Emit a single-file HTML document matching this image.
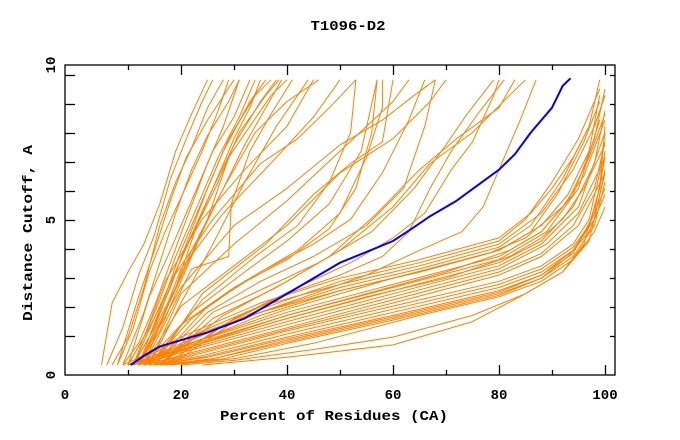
<!DOCTYPE html>
<html><head><meta charset="utf-8"><style>
html,body{margin:0;padding:0;background:#fff}
svg{display:block}
text{font-family:"Liberation Mono",monospace;font-weight:bold;font-size:14px;fill:#000}
</style></head><body>
<svg id="chart" width="680" height="440" viewBox="0 0 680 440" xmlns="http://www.w3.org/2000/svg">
<text x="348" y="30" text-anchor="middle" textLength="75" lengthAdjust="spacingAndGlyphs">T1096-D2</text>
<text x="334" y="420" text-anchor="middle" textLength="228" lengthAdjust="spacingAndGlyphs">Percent of Residues (CA)</text>
<text x="32" y="233" text-anchor="middle" textLength="176" lengthAdjust="spacingAndGlyphs" transform="rotate(-90 32 233)">Distance Cutoff, A</text>
<g id="series"></g>
<g id="axes"></g>
</svg>
<script>
const xTicks=[10,20,30,40,50,60,70,80,90,100];
const xLabels=[0,20,40,60,80,100];
const yTicks=[1,2,3,4,5,6,7,8,9,10];
const yLabels=[0,5,10];
const blueSeries=[[10.5,0.3],[13,0.6],[16,0.9],[20,1.1],[25,1.35],[32,1.8],[36,2.2],[40,2.6],[45,3.1],[50,3.6],[55,3.95],[60,4.3],[64,4.75],[67,5.1],[72,5.6],[76,6.1],[80,6.6],[83,7.1],[86,7.8],[88,8.2],[90,8.6],[92,9.3],[93.5,9.55]];
const groupA=[
[[5,0.3],[7,2.3],[10,3.3],[13,4.2],[16,5.5],[19,7.2],[22,8.4],[25,9.5]],
[[6,0.3],[9,1.5],[12,3.2],[15,4.5],[18,6.3],[21,7.6],[24,8.8],[26,9.5]],
[[7,0.3],[10,1.2],[13,2.8],[16,4.8],[19,6.2],[22,7.3],[25,8.6],[28,9.5]],
[[8,0.3],[11,1.5],[14,3.3],[17,4.6],[20,5.7],[24,7.2],[27,8.5],[29,9.5]],
[[9,0.3],[12,1.0],[15,2.2],[18,3.6],[21,5.0],[25,6.8],[28,8.0],[31,9.5]],
[[10,0.3],[13,1.2],[16,2.4],[19,3.8],[23,5.4],[27,7.0],[31,8.3],[34,9.5]],
[[10,0.3],[14,1.5],[17,2.5],[20,4.0],[24,5.6],[28,7.2],[33,8.8],[36,9.5]],
[[11,0.3],[14,1.2],[18,2.8],[21,4.2],[25,6.0],[29,7.6],[34,9.0],[37,9.5]],
[[11,0.3],[15,1.5],[19,3.3],[22,4.5],[26,6.0],[30,7.4],[35,8.8],[38,9.5]],
[[12,0.3],[16,1.8],[19,2.8],[23,4.8],[27,6.2],[31,7.8],[36,9.0],[38.5,9.5]],
[[12,0.3],[16,1.4],[20,3.0],[24,4.6],[28,6.0],[32,7.4],[36,8.6],[39,9.5]],
[[13,0.3],[17,2.0],[21,3.5],[25,5.0],[29,7.0],[33,8.0],[37,9.0],[40,9.5]],
[[9,0.3],[13,2.0],[16,3.6],[19,5.2],[22,6.6],[25,7.7],[29,8.8],[31,9.5]],
[[8,0.3],[12,2.5],[15,4.0],[18,5.6],[21,7.0],[25,8.2],[30,9.5]],
[[10,0.3],[14,2.5],[18,4.0],[22,5.6],[26,7.2],[30,8.3],[33,9.5]],
[[13,0.3],[18,2.0],[22,3.4],[29,3.8],[29.5,5.5],[33,7.2],[37,8.4],[41,9.5]],
[[11,0.3],[16,2.2],[20,3.7],[25,5.6],[30,7.6],[33,8.6],[35,9.5]],
[[14,0.3],[20,2.3],[26,4.2],[32,6.2],[38,8.0],[44,9.5]],
[[12,0.3],[17,2.0],[22,4.0],[28,6.0],[34,7.8],[40,8.8],[46,9.5]]
];
const groupB=[
[[13,0.3],[20,1.6],[30,2.8],[40,3.7],[48,4.7],[53,6.0],[56,7.8],[57,9.5]],
[[14,0.3],[22,1.8],[32,3.0],[42,4.0],[50,5.2],[55,7.0],[58,8.6],[58,9.5]],
[[14,0.3],[22,2.0],[32,3.3],[40,4.3],[48,5.5],[54,7.2],[57,9.5]],
[[15,0.3],[25,2.2],[35,3.3],[45,4.2],[52,5.0],[58,6.5],[63,8.2],[66,9.5]],
[[15,0.3],[25,2.0],[35,3.0],[45,3.8],[55,4.8],[62,6.0],[66,8.0],[68,9.5]],
[[16,0.3],[26,2.0],[36,2.8],[46,3.6],[56,4.6],[64,6.0],[70,7.4],[74,8.4],[79,9.5]],
[[16,0.3],[26,1.8],[38,2.8],[48,3.8],[57,5.2],[65,6.6],[72,7.6],[80,8.6],[83,9.5]],
[[16,0.3],[28,1.9],[40,3.0],[50,4.0],[60,5.4],[67,6.8],[75,7.8],[82,9.0],[85,9.5]],
[[17,0.3],[28,1.6],[40,2.6],[50,3.2],[58,3.8],[63,4.6],[67,6.0],[71,7.2],[76,8.4],[81,9.5]],
[[17,0.3],[30,1.8],[42,2.8],[52,3.6],[60,4.4],[66,5.2],[71,6.6],[75,7.5],[79,9.0],[80,9.5]],
[[18,0.3],[30,1.7],[45,2.6],[55,3.2],[65,4.0],[73,4.6],[77,5.4],[80,6.6],[84,8.2],[87,9.5]],
[[14,0.3],[24,2.4],[34,3.8],[42,4.8],[48,6.2],[52,7.8],[53,9.5]],
[[15,0.3],[24,2.6],[36,4.2],[45,5.8],[52,6.8],[58,7.5],[60,9.5]],
[[13,0.3],[20,2.2],[30,3.5],[40,4.8],[50,6.5],[60,7.6],[67,8.8],[70,9.5]],
[[12,0.3],[20,2.8],[30,4.8],[40,6.0],[50,7.4],[58,8.2],[64,9.0],[68,9.5]],
[[12,0.3],[18,3.0],[26,5.0],[35,6.8],[42,7.6],[48,8.6],[53,9.5]],
[[11,0.3],[17,3.0],[24,5.0],[32,6.6],[40,8.0],[45,9.5]],
[[13,0.3],[20,3.4],[28,5.2],[38,7.0],[45,8.3],[50,9.5]],
[[14,0.3],[20,2.6],[30,4.2],[40,5.6],[50,7.2],[60,8.8],[63,9.5]]
];
const groupC=[
[[10,0.3],[20,0.9],[40,2.1],[60,3.1],[80,4.0],[88,4.8],[93,5.8],[97,7.2],[99,9.0]],
[[10,0.3],[20,0.9],[40,2.0],[60,2.9],[80,3.8],[88,4.6],[94,5.8],[98,7.6],[100,9.2]],
[[11,0.3],[20,0.85],[40,1.9],[60,2.8],[80,3.7],[89,4.6],[95,6.0],[99,8.2]],
[[11,0.3],[20,0.8],[40,1.8],[60,2.7],[80,3.6],[88,4.3],[94,5.4],[98,6.8],[100,8.5]],
[[12,0.3],[20,0.75],[40,1.7],[60,2.6],[80,3.5],[88,4.2],[95,5.4],[100,7.8]],
[[12,0.3],[20,0.7],[40,1.6],[60,2.5],[80,3.4],[89,4.2],[95,5.2],[100,7.0]],
[[13,0.3],[22,0.7],[40,1.5],[60,2.4],[80,3.3],[88,3.9],[94,4.8],[98,6.0],[100,7.5]],
[[13,0.3],[22,0.65],[40,1.45],[60,2.3],[80,3.2],[88,3.8],[95,4.8],[100,6.5]],
[[14,0.3],[22,0.6],[40,1.4],[60,2.2],[80,3.0],[88,3.5],[94,4.2],[97,5.0],[99,6.5],[100,7.8]],
[[14,0.3],[24,0.6],[40,1.3],[60,2.1],[80,2.9],[88,3.4],[94,4.1],[97,4.8],[100,6.0]],
[[15,0.3],[24,0.55],[40,1.2],[60,2.0],[80,2.8],[88,3.3],[94,4.0],[98,5.0],[100,6.6]],
[[15,0.3],[25,0.55],[40,1.15],[60,1.9],[80,2.7],[88,3.2],[94,4.0],[97,4.8],[99,6.0],[100,8.0]],
[[16,0.3],[26,0.5],[40,1.1],[60,1.85],[80,2.65],[88,3.2],[94,3.9],[98,5.2],[100,7.0]],
[[16,0.3],[26,0.5],[40,1.05],[60,1.8],[80,2.6],[88,3.1],[93,3.8],[97,4.6],[100,5.8]],
[[17,0.3],[28,0.5],[40,1.0],[60,1.75],[80,2.55],[88,3.1],[94,3.8],[98,4.8],[100,6.2]],
[[18,0.3],[30,0.5],[45,1.0],[65,1.9],[80,2.5],[88,3.0],[94,3.7],[98,4.6],[100,5.4]],
[[24,0.3],[40,0.55],[60,0.95],[75,1.7],[85,2.6],[92,3.3],[96,4.2],[99,6.0],[100,7.2]],
[[20,0.3],[30,0.45],[45,0.8],[60,1.2],[75,1.9],[85,2.6],[92,3.3],[97,4.3],[100,6.5]],
[[10,0.3],[20,1.1],[35,2.2],[50,2.9],[65,3.5],[80,4.2],[88,5.2],[94,6.6],[98,8.0],[100,9.0]],
[[11,0.3],[20,1.0],[35,2.0],[50,2.8],[65,3.4],[80,4.1],[86,4.8],[92,6.3],[97,8.0],[99,9.5]],
[[12,0.3],[22,1.0],[35,1.9],[50,2.7],[65,3.3],[80,4.0],[86,4.6],[91,5.8],[96,7.5],[99,8.8]],
[[12,0.3],[22,1.1],[35,2.1],[50,3.0],[65,3.6],[80,4.3],[85,5.0],[90,6.2],[95,7.6],[99,9.2]],
[[10,0.3],[20,1.2],[35,2.3],[50,3.1],[65,3.7],[80,4.4],[86,5.2],[90,6.0],[94,7.0],[97,8.0]],
[[11,0.3],[22,0.9],[40,1.9],[55,2.6],[70,3.3],[82,4.0],[88,4.6],[93,5.6],[97,7.0],[100,8.4]],
[[13,0.3],[22,0.9],[40,1.8],[55,2.5],[70,3.1],[82,3.8],[88,4.4],[92,5.0],[96,6.0],[100,7.4]],
[[9,0.3],[18,1.0],[35,2.0],[50,2.7],[65,3.3],[78,3.9],[85,4.4],[92,5.4],[96,6.4],[100,8.2]]
];
const NS="http://www.w3.org/2000/svg";
const L=65,R=615,T=65,B=375;
function xs(v){return 75+5.3*v;}
function ys(v){return 374.3-31*v;}
function yTickPos(v){return 365-29*v;}
const sg=document.getElementById('series');
const ag=document.getElementById('axes');
function mk(tag,attrs,parent){const e=document.createElementNS(NS,tag);for(const k in attrs)e.setAttribute(k,attrs[k]);parent.appendChild(e);return e;}
function drawLine(pts,color,w,name,parent){
  const p=mk('polyline',{points:pts.map(d=>xs(d[0]).toFixed(1)+','+ys(d[1]).toFixed(1)).join(' '),fill:'none',stroke:color,'stroke-width':w,'stroke-linejoin':'round'},parent);
  
  
}
groupA.forEach((s,i)=>drawLine(s,'#ff8000',1,'model-curve-a'+(i+1),sg));
groupB.forEach((s,i)=>drawLine(s,'#ff8000',1,'model-curve-b'+(i+1),sg));
groupC.forEach((s,i)=>drawLine(s,'#ff8000',1,'model-curve-c'+(i+1),sg));
drawLine(blueSeries,'#0000ff',2,'highlight-curve',sg);
const box=mk('rect',{x:L,y:T,width:R-L,height:B-T,fill:'none',stroke:'#000','stroke-width':1.3},ag);


xTicks.forEach(v=>{
  const x=Math.round(xs(v))+0.5;
  const len=(v%20===0)?10:5;
  const t1=mk('line',{x1:x,y1:B,x2:x,y2:B-len,stroke:'#000','stroke-width':1.3},ag);
  
  
  const t2=mk('line',{x1:x,y1:T,x2:x,y2:T+len,stroke:'#000','stroke-width':1.3},ag);
  
  
});
xLabels.forEach(v=>{
  const t=mk('text',{x:(v===0?65:xs(v)),y:B+24,'text-anchor':'middle'},ag);
  t.textContent=v;
  
  
});
yTicks.forEach(v=>{
  const y=Math.round(yTickPos(v))+0.5;
  const t1=mk('line',{x1:L,y1:y,x2:L+10,y2:y,stroke:'#000','stroke-width':1.3},ag);
  
  
  const t2=mk('line',{x1:R,y1:y,x2:R-5,y2:y,stroke:'#000','stroke-width':1.3},ag);
  
  
});
yLabels.forEach(v=>{
  const y=(v===0?375:(v===10?65:yTickPos(v)));
  const t=mk('text',{x:55,y:y,'text-anchor':'middle',transform:'rotate(-90 55 '+y+')'},ag);
  t.textContent=v;
  
  
});
</script>
</body></html>
